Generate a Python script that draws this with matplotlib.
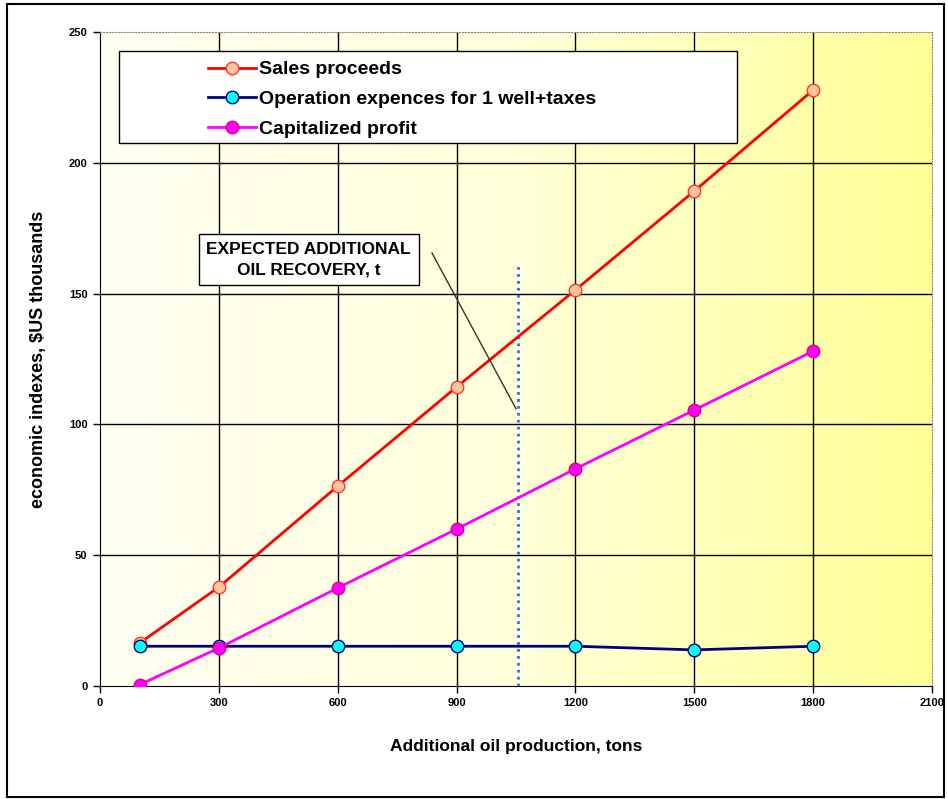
import numpy as np
import matplotlib
matplotlib.use('Agg')
import matplotlib.pyplot as plt
from matplotlib.patches import Rectangle
from matplotlib.colors import LinearSegmentedColormap

plt.rcParams['font.family'] = ['Liberation Sans', 'DejaVu Sans']

# data
production = [100, 300, 600, 900, 1200, 1500, 1800]
sales = [16.4, 37.8, 76.4, 114.3, 151.4, 189.2, 227.8]
operation = [15.2, 15.2, 15.2, 15.2, 15.2, 13.8, 15.2]
profit = [0.5, 14.5, 37.5, 60.0, 83.0, 105.5, 128.0]
expected_recovery = 1055
x_ticks = [0, 300, 600, 900, 1200, 1500, 1800, 2100]
y_ticks = [0, 50, 100, 150, 200, 250]

fig = plt.figure(figsize=(9.48, 7.99), dpi=100)
ax = fig.add_axes([100/948, 1 - 686/799, 832/948, 654/799])

# yellow gradient plot area
grad = np.linspace(0, 1, 256).reshape(1, -1)
cmap = LinearSegmentedColormap.from_list('bg', ['#FFFFF2', '#FFFFDA', '#FFFF96'])
ax.imshow(grad, extent=[0, 2100, 0, 250], aspect='auto', cmap=cmap, zorder=0)

ax.set_xlim(0, 2100)
ax.set_ylim(0, 250)
ax.set_xticks(x_ticks)
ax.set_yticks(y_ticks)
ax.tick_params(direction='out', length=5, width=1, labelsize=8, pad=4)
for lab in ax.get_xticklabels() + ax.get_yticklabels():
    lab.set_fontweight('bold')

for x in x_ticks[1:-1]:
    ax.axvline(x, color='black', lw=1, zorder=1)
for y in y_ticks[1:-1]:
    ax.axhline(y, color='black', lw=1, zorder=1)

for s in ['top', 'right']:
    ax.spines[s].set_color('#888888')
    ax.spines[s].set_linestyle(':')
for s in ['left', 'bottom']:
    ax.spines[s].set_color('black')

ax.plot(production, sales, color='#FF0000', lw=2, marker='o', ms=9,
        mfc='#FFC49A', mec='#FF3333', label='Sales proceeds', zorder=4)
ax.plot(production, operation, color='#000080', lw=2, marker='o', ms=9,
        mfc='#00FFFF', mec='#000080', label='Operation expences for 1 well+taxes', zorder=4)
ax.plot(production, profit, color='#FF00FF', lw=2, marker='o', ms=9,
        mfc='#FF00FF', mec='#E0007A', label='Capitalized profit', zorder=5)

ax.plot([expected_recovery, expected_recovery], [0, 161], color='#3366FF',
        lw=2, ls=(0, (1, 1.5)), zorder=3)

# callout line and box
ax.plot([838, 1050], [165.5, 106], color='#333333', lw=1, zorder=6)
ax.text(527, 163, 'EXPECTED ADDITIONAL\nOIL RECOVERY, t', fontsize=12.5, fontweight='bold',
        ha='center', va='center', linespacing=1.45, zorder=7,
        bbox=dict(boxstyle='square,pad=0.45', fc='white', ec='black', lw=1))

# legend box
ax.add_patch(Rectangle((19/832, (686-143)/654), 618/832, 92/654, transform=ax.transAxes,
                       fc='white', ec='black', lw=1, zorder=8))
ax.legend(loc='upper left', bbox_to_anchor=(98/832, (686-51)/654), frameon=False,
          prop={'size': 14, 'weight': 'bold'}, handlelength=2.5, handletextpad=0.15,
          labelspacing=0.62, borderpad=0).set_zorder(9)

ax.set_xlabel('Additional oil production, tons', fontsize=12.5, fontweight='bold', labelpad=22)
ax.set_ylabel('economic indexes, $US thousands', fontsize=13, fontweight='bold', labelpad=16)

fig.add_artist(Rectangle((7/948, 1 - 797/799), 937/948, 793/799, transform=fig.transFigure,
                         fill=False, ec='black', lw=1.5))

fig.savefig('out.png', dpi=100)
